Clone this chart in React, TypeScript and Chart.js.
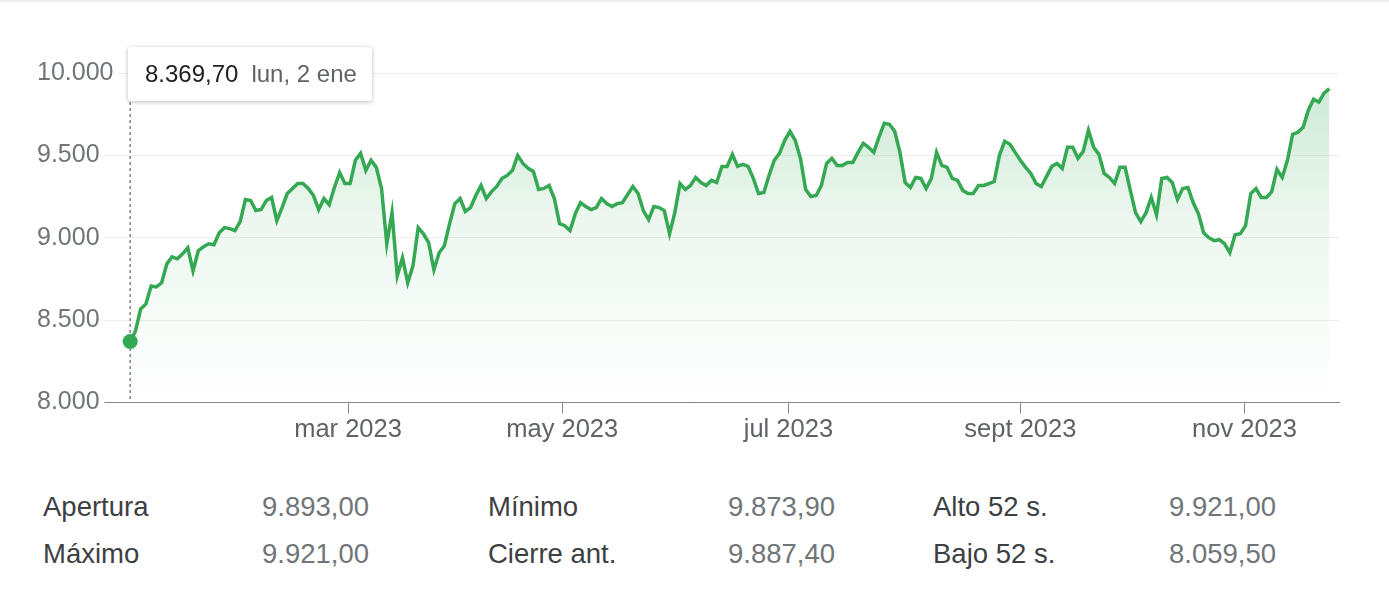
import React, { useEffect, useRef } from "react";
import { Chart, registerables } from "chart.js";

Chart.register(...registerables);

const FONT = "Arial, 'Liberation Sans', Helvetica, sans-serif";

// Daily closes, 2 Jan 2023 → late Nov 2023 (one value per trading day)
const prices: number[] = [
  8369.7, 8433, 8567, 8598, 8707, 8701, 8726, 8841, 8884, 8872,
  8902, 8939, 8799, 8921, 8945, 8963, 8957, 9030, 9061, 9055,
  9043, 9098, 9232, 9226, 9165, 9171, 9226, 9244, 9104, 9183,
  9268, 9299, 9329, 9329, 9299, 9256, 9171,
  9238, 9201, 9305, 9396, 9329, 9329, 9470, 9512, 9409, 9470,
  9427, 9299, 8963, 9152, 8768, 8878, 8726, 8829, 9061, 9024,
  8970, 8805, 8909, 8951, 9085, 9207, 9238, 9159, 9183, 9256,
  9317, 9238, 9280, 9311, 9360, 9378, 9409, 9500,
  9451, 9421, 9402, 9293, 9299, 9317, 9238, 9085, 9073, 9043,
  9146, 9213, 9189, 9171, 9183, 9238, 9207, 9189, 9207, 9213,
  9262, 9311, 9268, 9165, 9110, 9189, 9183, 9165, 9024, 9152,
  9329, 9293, 9317, 9366, 9335, 9317, 9348, 9335,
  9433, 9433, 9506, 9433, 9445, 9433, 9360, 9268, 9274, 9378,
  9470, 9512, 9591, 9646, 9591, 9482, 9293, 9250, 9256, 9317,
  9451, 9482, 9439, 9439, 9457, 9457, 9518, 9573, 9549, 9518,
  9610, 9695, 9689, 9646, 9518, 9335, 9305, 9366, 9360,
  9299, 9360, 9518, 9439, 9427, 9360, 9348, 9287, 9268, 9268,
  9317, 9317, 9329, 9341, 9500, 9585, 9567, 9518, 9470, 9427,
  9390, 9329, 9311, 9372, 9433, 9451, 9421, 9549, 9549, 9482,
  9524, 9652, 9549, 9506, 9390, 9366, 9329, 9427, 9427,
  9287, 9152, 9098, 9152, 9244, 9140, 9360, 9366, 9335, 9232,
  9299, 9305, 9213, 9146, 9030, 9000, 8982, 8988, 8963, 8909,
  9018, 9024, 9073, 9268, 9299, 9244, 9244, 9280, 9415, 9366,
  9470, 9628, 9640, 9671, 9774, 9841, 9823, 9878, 9905,
];

// Month tick positions (in trading-day index) and their labels
const monthTickIndex: number[] = [41.6, 82.5, 125.7, 170.0, 212.8];
const monthTickLabels: string[] = ["mar 2023", "may 2023", "jul 2023", "sept 2023", "nov 2023"];

const yTickValues: number[] = [8000, 8500, 9000, 9500, 10000];

const tooltipValue = "8.369,70";
const tooltipDate = "lun, 2 ene";

const statsRow1: string[][] = [
  ["Apertura", "9.893,00"],
  ["Mínimo", "9.873,90"],
  ["Alto 52 s.", "9.921,00"],
];
const statsRow2: string[][] = [
  ["Máximo", "9.921,00"],
  ["Cierre ant.", "9.887,40"],
  ["Bajo 52 s.", "8.059,50"],
];

const GREEN = "#34a853";

function fmtThousands(v: number): string {
  const s = Math.round(v).toString();
  return s.replace(/\B(?=(\d{3})+(?!\d))/g, ".");
}

export default function App() {
  const canvasRef = useRef<HTMLCanvasElement | null>(null);

  useEffect(() => {
    const canvas = canvasRef.current;
    if (!canvas) return;
    const n = prices.length;
    const xMin = -17.8;
    const xMax = n - 1 + 1.85;

    const crosshair = {
      id: "crosshair",
      beforeDatasetsDraw(chart: any) {
        const ctx = chart.ctx;
        const x = chart.scales.x.getPixelForValue(0);
        ctx.save();
        ctx.setLineDash([3, 3]);
        ctx.strokeStyle = "#80868b";
        ctx.lineWidth = 1.5;
        ctx.beginPath();
        ctx.moveTo(x, 60);
        ctx.lineTo(x, chart.chartArea.bottom);
        ctx.stroke();
        ctx.restore();
      },
    };

    const chart = new Chart(canvas, {
      type: "line",
      data: {
        datasets: [
          {
            data: prices.map((p, i) => ({ x: i, y: p })),
            borderColor: GREEN,
            borderWidth: 3.5,
            tension: 0,
            fill: "start",
            backgroundColor: (c: any) => {
              const { chart: ch } = c;
              const area = ch.chartArea;
              if (!area) return "rgba(52,168,83,0.1)";
              const g = ch.ctx.createLinearGradient(0, area.top, 0, area.bottom);
              g.addColorStop(0, "rgba(52,168,83,0.26)");
              g.addColorStop(0.45, "rgba(52,168,83,0.09)");
              g.addColorStop(1, "rgba(52,168,83,0.0)");
              return g;
            },
            pointRadius: (c: any) => (c.dataIndex === 0 ? 7.5 : 0),
            pointHoverRadius: 0,
            pointBackgroundColor: GREEN,
            pointBorderWidth: 0,
          },
        ],
      },
      options: {
        animation: false,
        responsive: false,
        maintainAspectRatio: false,
        layout: { padding: { left: 37, right: 50, top: 73, bottom: 14 } },
        plugins: { legend: { display: false }, tooltip: { enabled: false } },
        events: [],
        scales: {
          x: {
            type: "linear",
            min: xMin,
            max: xMax,
            afterBuildTicks: (s: any) => {
              s.ticks = monthTickIndex.map((v) => ({ value: v }));
            },
            ticks: {
              autoSkip: false,
              maxRotation: 0,
              padding: 1,
              color: "#5f6368",
              font: { size: 25.5, family: FONT },
              callback: (v: any) => {
                const i = monthTickIndex.indexOf(Number(v));
                return i >= 0 ? monthTickLabels[i] : "";
              },
            },
            grid: {
              drawOnChartArea: false,
              drawTicks: true,
              tickLength: 11,
              color: "#80868b",
              lineWidth: 1,
            },
            border: { display: true, color: "#80868b", width: 1 },
          },
          y: {
            min: 8000,
            max: 10000,
            position: "left",
            afterBuildTicks: (s: any) => {
              s.ticks = yTickValues.map((v) => ({ value: v }));
            },
            ticks: {
              mirror: true,
              padding: 0,
              z: 1,
              color: "#70757a",
              font: { size: 25, family: FONT },
              callback: (v: any) => fmtThousands(Number(v)),
              showLabelBackdrop: true,
              backdropColor: "#ffffff",
              backdropPadding: { top: 0, bottom: 0, left: 0, right: 5 },
            },
            grid: { color: "#eeeeee", drawTicks: false, lineWidth: 1 },
            border: { display: false },
          },
        },
      },
      plugins: [crosshair],
    } as any);

    return () => chart.destroy();
  }, []);

  const labelStyle: React.CSSProperties = {
    position: "absolute",
    fontFamily: FONT,
    fontSize: 27.5,
    color: "#3c4043",
    lineHeight: "32px",
    whiteSpace: "nowrap",
  };
  const valueStyle: React.CSSProperties = {
    ...labelStyle,
    color: "#70757a",
    textAlign: "right",
  };
  const labelX = [43, 488, 933];
  const valueRight = [369, 835, 1276];
  const rowY = [491, 538];

  return (
    <div style={{ position: "absolute", left: 0, top: 0, width: 1389, height: 608, background: "#fff", overflow: "hidden" }}>
      <div style={{ position: "absolute", left: 0, top: 0, width: 1389, height: 4, background: "linear-gradient(#ececec, #ffffff)" }} />
      <canvas ref={canvasRef} width={1389} height={460} style={{ position: "absolute", left: 0, top: 0, width: 1389, height: 460 }} />
      <div
        style={{
          position: "absolute",
          left: 128,
          top: 47,
          width: 244,
          height: 54,
          background: "#fff",
          borderRadius: 3,
          boxShadow: "0 1px 4px rgba(0,0,0,0.28)",
          fontFamily: FONT,
          fontSize: 24,
          lineHeight: "54px",
          whiteSpace: "nowrap",
          boxSizing: "border-box",
          paddingLeft: 17,
        }}
      >
        <span style={{ color: "#202124" }}>{tooltipValue}</span>
        <span style={{ color: "#5f6368", marginLeft: 13 }}>{tooltipDate}</span>
      </div>
      {[statsRow1, statsRow2].map((row, r) =>
        row.map((cell, c) => (
          <React.Fragment key={`${r}-${c}`}>
            <div style={{ ...labelStyle, left: labelX[c], top: rowY[r] }}>{cell[0]}</div>
            <div style={{ ...valueStyle, right: 1389 - valueRight[c], top: rowY[r] }}>{cell[1]}</div>
          </React.Fragment>
        ))
      )}
    </div>
  );
}
